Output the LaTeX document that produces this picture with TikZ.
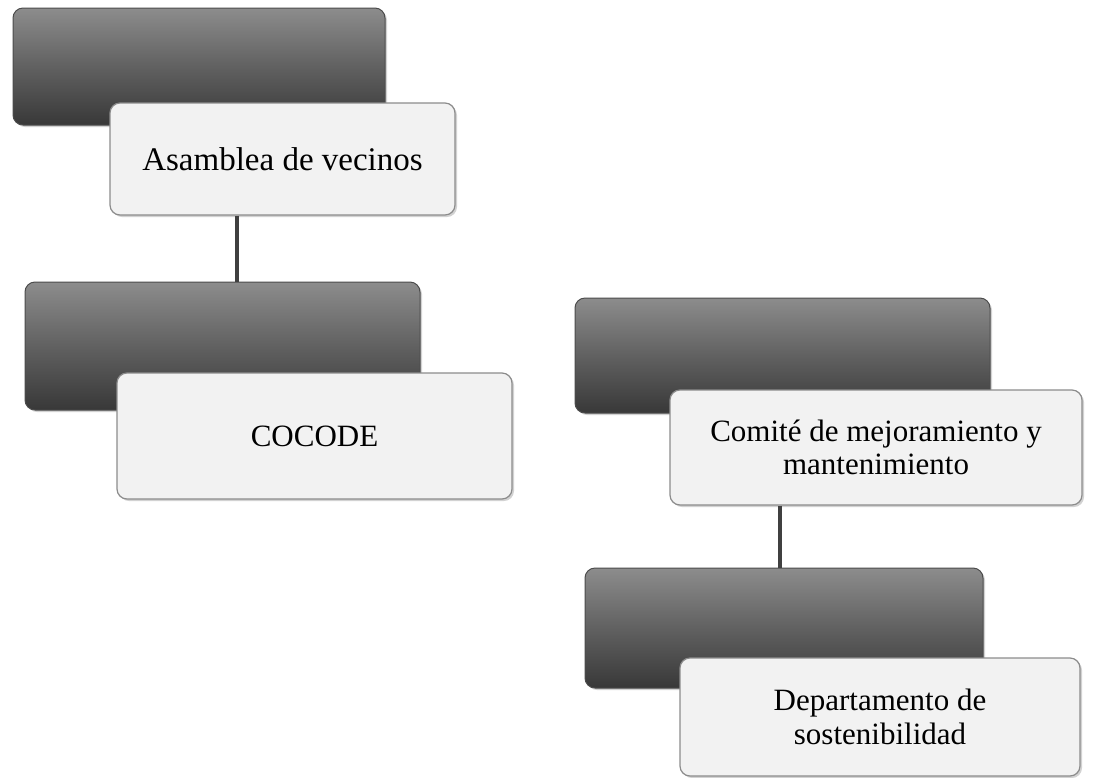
\documentclass[tikz,border=0pt]{standalone}
\usepackage{fontspec}
\setmainfont{Liberation Serif}
\usetikzlibrary{shadows}
\begin{document}
\begin{tikzpicture}[x=0.5pt,y=-0.5pt,
  darkbox/.style={rectangle, rounded corners=5pt, draw=black!70, line width=0.5pt,
    top color=black!45, bottom color=black!78, middle color=black!62,
    drop shadow={opacity=0.35, shadow xshift=1pt, shadow yshift=-1pt}, inner sep=0pt},
  lightbox/.style={rectangle, rounded corners=5pt, draw=black!45, line width=0.6pt,
    fill=black!5, drop shadow={opacity=0.35, shadow xshift=1pt, shadow yshift=-1pt},
    inner sep=0pt, align=center, font=\fontsize{15.5}{16.8}\selectfont},
  conn/.style={draw=black!75, line width=2.2pt}]
\useasboundingbox (0,0) rectangle (1100,778);
\fill[white] (0,0) rectangle (1100,778);

% group 1
\node[darkbox, minimum width=186pt, minimum height=58.5pt] (d1) at (199,66.5) {};
\node[lightbox, minimum width=172.5pt, minimum height=56pt, font=\fontsize{16.5}{18}\selectfont] (w1) at (282.5,159) {\raisebox{-2.5pt}{Asamblea de vecinos}};

% group 2
\node[darkbox, minimum width=197.5pt, minimum height=64pt] (d2) at (222.5,346) {};
\node[lightbox, minimum width=197.5pt, minimum height=63pt] (w2) at (314.5,436) {COCODE};

% group 3
\node[darkbox, minimum width=207.5pt, minimum height=57.5pt] (d3) at (782.5,355.5) {};
\node[lightbox, minimum width=206pt, minimum height=57.5pt] (w3) at (876,447.5) {Comité de mejoramiento y\\mantenimiento};

% group 4
\node[darkbox, minimum width=199pt, minimum height=60pt] (d4) at (784,628) {};
\node[lightbox, minimum width=200pt, minimum height=59pt] (w4) at (880,717) {\raisebox{-3pt}{\shortstack{Departamento de\\sostenibilidad}}};

% connectors
\coordinate (c1) at (237,0);
\coordinate (c2) at (780,0);
\path[conn] (c1 |- w1.south) -- (c1 |- d2.north);
\path[conn] (c2 |- w3.south) -- (c2 |- d4.north);
\end{tikzpicture}
\end{document}
